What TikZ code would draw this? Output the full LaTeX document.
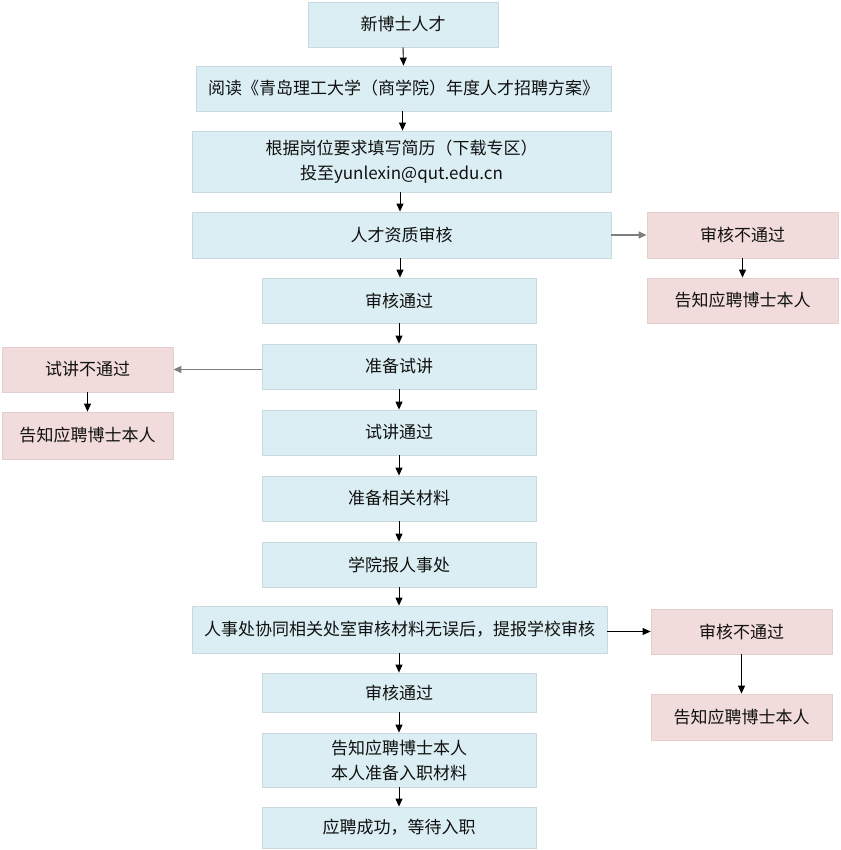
\documentclass[tikz,border=0pt]{standalone}
\usepackage{fontspec}
\newfontfamily\cjk{Noto Sans CJK SC}
\usetikzlibrary{arrows.meta}
\definecolor{bluefill}{HTML}{DAEEF3}
\definecolor{blueline}{HTML}{CAD9DF}
\definecolor{pinkfill}{HTML}{F2DCDB}
\definecolor{pinkline}{HTML}{E3CFCE}
\definecolor{txt}{HTML}{111111}
\definecolor{grayarrow}{HTML}{7F7F7F}
\tikzset{
  base/.style={inner sep=0pt, align=center, text=txt, font=\cjk\fontsize{17}{25}\selectfont, line width=0.8pt},
  bluebox/.style={base, fill=bluefill, draw=blueline},
  pinkbox/.style={base, fill=pinkfill, draw=pinkline},
  arr/.style={-{Triangle[length=8pt,width=7pt]}, line width=0.9pt, draw=black},
  garr/.style={-{Triangle[length=8pt,width=7pt]}, line width=1.4pt, draw=grayarrow},
}
\begin{document}
\begin{tikzpicture}[x=1pt,y=-1pt]
\useasboundingbox (0,0) rectangle (840,850);
% main column
\node[bluebox, minimum width=190pt, minimum height=45pt] (b1) at (403,24.5) {新博士人才};
\node[bluebox, minimum width=415pt, minimum height=45pt] (b2) at (403.5,88.5) {阅读《青岛理工大学（商学院）年度人才招聘方案》};
\node[bluebox, minimum width=419pt, minimum height=61pt] (b3) at (401.5,161.5) {根据岗位要求填写简历（下载专区）\\投至yunlexin@qut.edu.cn};
\node[bluebox, minimum width=419pt, minimum height=46pt] (b4) at (401.5,235) {人才资质审核};
\node[bluebox, minimum width=274pt, minimum height=45pt] (b5) at (399,300.5) {审核通过};
\node[bluebox, minimum width=274pt, minimum height=45pt] (b6) at (399,366.5) {准备试讲};
\node[bluebox, minimum width=274pt, minimum height=45pt] (b7) at (399,432.5) {试讲通过};
\node[bluebox, minimum width=274pt, minimum height=45pt] (b8) at (399,498.5) {准备相关材料};
\node[bluebox, minimum width=274pt, minimum height=45pt] (b9) at (399,564.5) {学院报人事处};
\node[bluebox, minimum width=415pt, minimum height=47pt] (b10) at (399.5,629.5) {人事处协同相关处室审核材料无误后，提报学校审核};
\node[bluebox, minimum width=274pt, minimum height=39pt] (b11) at (399,692.5) {审核通过};
\node[bluebox, minimum width=274pt, minimum height=54pt] (b12) at (399,760) {告知应聘博士本人\\本人准备入职材料};
\node[bluebox, minimum width=274pt, minimum height=41pt] (b13) at (399,827.5) {应聘成功，等待入职};
% right side boxes
\node[pinkbox, minimum width=191pt, minimum height=46pt] (r1) at (742.5,235) {审核不通过};
\node[pinkbox, minimum width=191pt, minimum height=45pt] (r2) at (742.5,300.5) {告知应聘博士本人};
\node[pinkbox, minimum width=181pt, minimum height=45pt] (r3) at (741.5,631.5) {审核不通过};
\node[pinkbox, minimum width=181pt, minimum height=46pt] (r4) at (741.5,717) {告知应聘博士本人};
% left side boxes
\node[pinkbox, minimum width=171pt, minimum height=45pt] (l1) at (87.5,369.5) {试讲不通过};
\node[pinkbox, minimum width=171pt, minimum height=47pt] (l2) at (87.5,435.5) {告知应聘博士本人};
% vertical arrows
\draw[arr] (b1.south) -- (b2.north);
\draw[arr] ([xshift=-1pt]b2.south) -- ([xshift=-1pt]b2.south |- b3.north);
\draw[arr] ([xshift=-1.5pt]b3.south) -- ([xshift=-1.5pt]b3.south |- b4.north);
\draw[arr] ([xshift=-1.5pt]b4.south) -- ([xshift=-1.5pt]b4.south |- b5.north);
\draw[arr] (b5.south) -- (b6.north);
\draw[arr] (b6.south) -- (b7.north);
\draw[arr] (b7.south) -- (b8.north);
\draw[arr] (b8.south) -- (b9.north);
\draw[arr] (b9.south) -- (b9.south |- b10.north);
\draw[arr] (b10.south -| b11.north) -- (b11.north);
\draw[arr] (b11.south) -- (b12.north);
\draw[arr] (b12.south) -- (b13.north);
\draw[arr] (r1.south) -- (r2.north);
\draw[arr] (r3.south) -- (r4.north);
\draw[arr] (l1.south) -- (l2.north);
% horizontal arrows
\draw[garr] (b4.east) -- (r1.west);
\draw[garr] (b6.west |- l1.east) -- (l1.east);
\draw[arr] (b10.east |- r3.west) -- (r3.west);
\end{tikzpicture}
\end{document}
